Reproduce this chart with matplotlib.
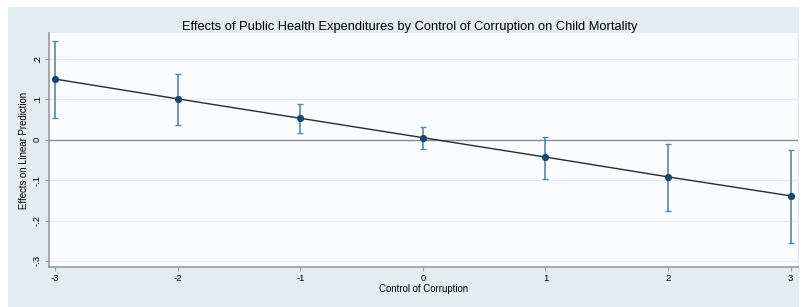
import matplotlib.pyplot as plt
from matplotlib.patches import Rectangle
from matplotlib.ticker import FuncFormatter

plt.rcParams['font.family'] = ['Liberation Sans', 'DejaVu Sans']
plt.rcParams['axes.unicode_minus'] = False

corruption = [-3, -2, -1, 0, 1, 2, 3]
effect = [0.150, 0.101, 0.053, 0.005, -0.043, -0.092, -0.139]
ci_low = [0.054, 0.037, 0.017, -0.024, -0.097, -0.176, -0.256]
ci_high = [0.245, 0.163, 0.089, 0.032, 0.007, -0.010, -0.025]

y_ticks = [-0.3, -0.2, -0.1, 0, 0.1, 0.2]


def stata_fmt(v, pos):
    if abs(v) < 1e-9:
        return '0'
    s = '{:.1f}'.format(v)
    return s.replace('0.', '.')


fig = plt.figure(figsize=(8.01, 3.07), dpi=100, facecolor='white')
fig.patches.append(Rectangle((8 / 801, 0), 791 / 801, 300 / 307, transform=fig.transFigure,
                             facecolor='#e3ecf0', edgecolor='none', zorder=-10))

ax = fig.add_axes([49 / 801, 40 / 307, 749 / 801, 234 / 307])
ax.set_zorder(1)
ax.set_facecolor('#fbfcfd')

lower = [e - l for e, l in zip(effect, ci_low)]
upper = [h - e for e, h in zip(effect, ci_high)]
ax.errorbar(corruption, effect, yerr=[lower, upper], fmt='none', ecolor='#5b87a8',
            elinewidth=1.2, capsize=2.5, capthick=1.0, zorder=3)
ax.plot(corruption, effect, color='#2b2b2b', lw=1.0, zorder=4)
ax.plot(corruption, effect, 'o', color='#1a476f', ms=4.2, zorder=5)
ax.axhline(0, color='#8c8c8c', lw=1.0, zorder=2)

ax.set_xlim(-3.05, 3.06)
ax.set_ylim(-0.315, 0.264)
ax.set_xticks(corruption)
ax.set_yticks(y_ticks)
ax.yaxis.set_major_formatter(FuncFormatter(stata_fmt))
ax.grid(axis='y', color='#e2ebef', lw=0.9)
ax.set_axisbelow(True)

for lbl in ax.get_yticklabels():
    lbl.set_rotation(90)
    lbl.set_va('center')
ax.tick_params(axis='both', labelsize=6.8, length=3, color='#9a9a9a', width=0.8, pad=2)

for s in ['top', 'right']:
    ax.spines[s].set_visible(False)
for s in ['left', 'bottom']:
    ax.spines[s].set_color('#9a9a9a')
    ax.spines[s].set_linewidth(1.2)

fig.text(410 / 801, 1 - 27 / 307,
         'Effects of Public Health Expenditures by Control of Corruption on Child Mortality',
         fontsize=9.3, ha='center', va='center')
ax.set_xlabel('Control of Corruption', fontsize=6.9, labelpad=1)
ax.set_ylabel('Effects on Linear Prediction', fontsize=6.9, labelpad=3)

fig.savefig('out.png', dpi=100, facecolor='white')
